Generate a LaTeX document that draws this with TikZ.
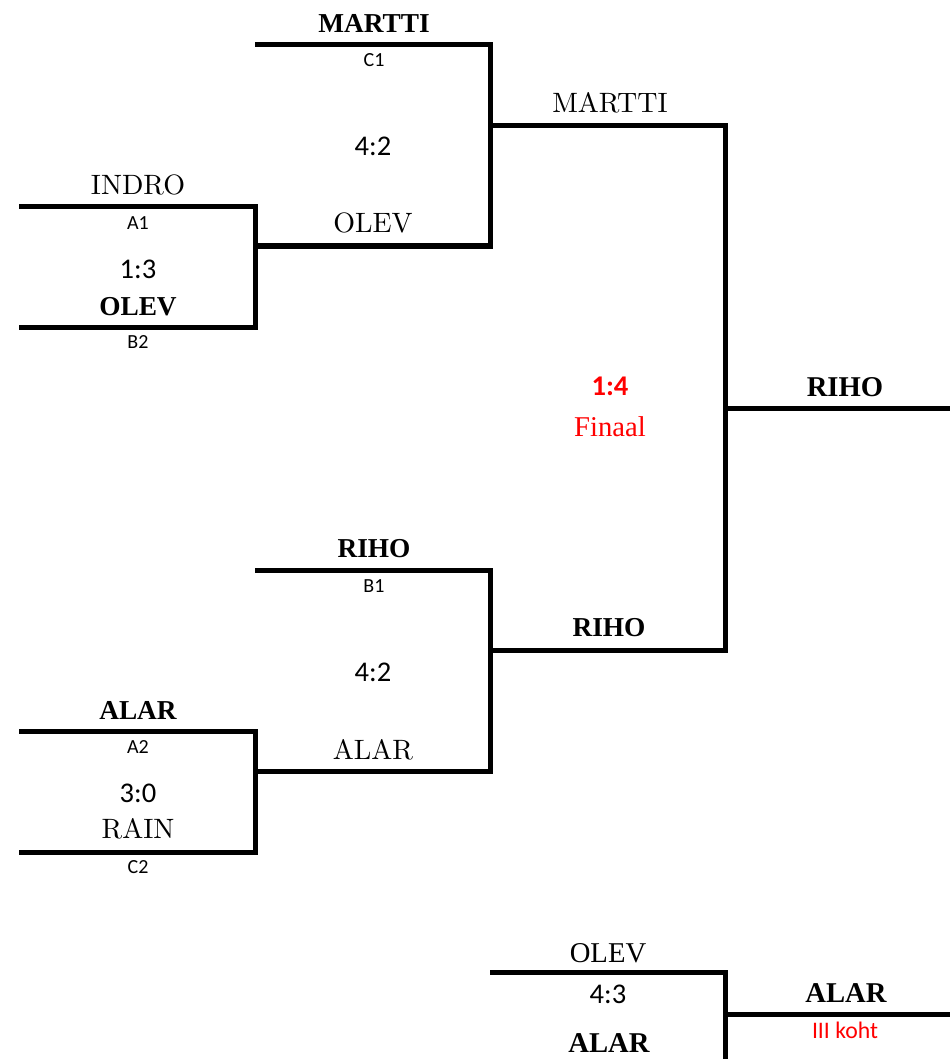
\documentclass[tikz,border=0pt]{standalone}
\usepackage{fontspec}
\newfontfamily\tnrfont{Liberation Serif}
\newfontfamily\calfont{Carlito}
\newfontfamily\lmtenfont{lmroman10-regular.otf}
\definecolor{bracketred}{RGB}{255,0,0}
\tikzset{
  bline/.style={line width=3.75pt, line join=miter, line cap=butt},
  txt/.style={anchor=base, inner sep=0pt, outer sep=0pt},
  regname/.style={txt, font=\lmtenfont\fontsize{21}{24}\selectfont},
  boldname/.style={txt, font=\tnrfont\bfseries\fontsize{20.5}{24}\selectfont},
  boldbig/.style={txt, font=\tnrfont\bfseries\fontsize{21.5}{24}\selectfont},
  tnrname/.style={txt, font=\tnrfont\fontsize{21.5}{24}\selectfont},
  seed/.style={txt, font=\calfont\fontsize{15}{18}\selectfont},
  score/.style={txt, font=\calfont\fontsize{21.4}{24}\selectfont},
  redscore/.style={txt, text=bracketred, font=\calfont\bfseries\fontsize{21.4}{24}\selectfont},
  redlabel/.style={txt, text=bracketred, font=\tnrfont\fontsize{21.5}{24}\selectfont},
  redsmall/.style={txt, text=bracketred, font=\calfont\fontsize{17.8}{20}\selectfont}
}
\begin{document}
\begin{tikzpicture}[x=0.75pt,y=-0.75pt]
\useasboundingbox (0,0) rectangle (949,1059);
% ---- coordinates ----
% round 1, upper
\coordinate (ua1) at (19,207);
\coordinate (ua2) at (255,207);
\coordinate (ua3) at (255,327);
\coordinate (ua4) at (19,327);
% round 2, upper
\coordinate (ub1) at (255,45);
\coordinate (ub2) at (490,45);
\coordinate (ub3) at (490,246);
\coordinate (ub4) at (255,246);
% round 1, lower
\coordinate (la1) at (19,731);
\coordinate (la2) at (255,731);
\coordinate (la3) at (255,852);
\coordinate (la4) at (19,852);
% round 2, lower
\coordinate (lb1) at (255,570);
\coordinate (lb2) at (490,570);
\coordinate (lb3) at (490,771);
\coordinate (lb4) at (255,771);
% final
\coordinate (f1) at (490,126);
\coordinate (f2) at (725,126);
\coordinate (f3) at (725,650);
\coordinate (f4) at (490,650);
\coordinate (fw1) at (725,408);
\coordinate (fw2) at (955,408);
% third place
\coordinate (t1) at (490,972);
\coordinate (t2) at (725,972);
\coordinate (t3) at (725,1070);
\coordinate (tw1) at (725,1014);
\coordinate (tw2) at (955,1014);
% ---- lines ----
\draw[bline] (ua1) -- (ua2) -- (ua3) -- (ua4);
\draw[bline] (ub1) -- (ub2) -- (ub3) -- (ub4);
\draw[bline] (la1) -- (la2) -- (la3) -- (la4);
\draw[bline] (lb1) -- (lb2) -- (lb3) -- (lb4);
\draw[bline] (f1) -- (f2) -- (f3) -- (f4);
\draw[bline] (fw1) -- (fw2);
\draw[bline] (t1) -- (t2) -- (t3);
\draw[bline] (tw1) -- (tw2);
% ---- texts ----
% upper half
\node[boldname] (nMartti1) at (374,33) {MARTTI};
\node[seed] (sC1) at (374,67) {C1};
\node[score] (sc1) at (373,156) {4:2};
\node[regname] (nIndro) at (138,195) {INDRO};
\node[seed] (sA1) at (138,229) {A1};
\node[regname] (nOlev2) at (373,233) {OLEV};
\node[score] (sc2) at (138,278) {1:3};
\node[boldname] (nOlev1) at (138,315) {OLEV};
\node[seed] (sB2) at (138,348) {B2};
\node[regname] (nMartti2) at (610,113) {MARTTI};
% final
\node[redscore] (scF) at (610,395) {1:4};
\node[redlabel] (lFinal) at (610,436) {Finaal};
\node[boldbig] (nWin) at (845,396) {RIHO};
% lower half
\node[boldname] (nRiho1) at (374,557) {RIHO};
\node[seed] (sB1) at (374,592) {B1};
\node[score] (sc3) at (373,681) {4:2};
\node[boldname] (nAlar1) at (138,719) {ALAR};
\node[seed] (sA2) at (138,753) {A2};
\node[regname] (nAlar2) at (373,759) {ALAR};
\node[score] (sc4) at (138,802) {3:0};
\node[regname] (nRain) at (138,838) {RAIN};
\node[seed] (sC2) at (138,873) {C2};
\node[boldname] (nRiho2) at (609,636) {RIHO};
% third place
\node[tnrname] (nOlev3) at (608,962) {OLEV};
\node[score] (sc5) at (608,1003) {4:3};
\node[boldbig] (nAlar3) at (609,1052) {ALAR};
\node[boldbig] (nAlar4) at (846,1002) {ALAR};
\node[redsmall] (lThird) at (845,1038) {III koht};
\end{tikzpicture}
\end{document}
